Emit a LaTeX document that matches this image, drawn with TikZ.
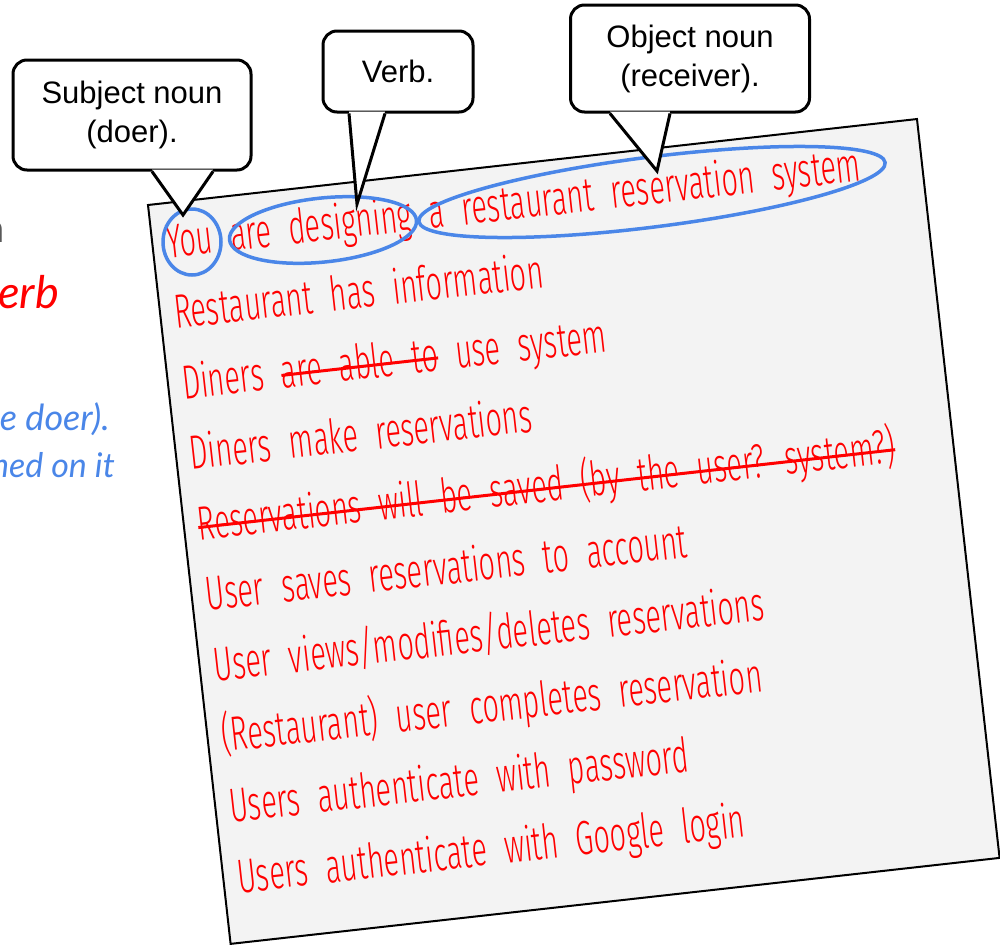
\documentclass[tikz,border=0pt]{standalone}
\usepackage{fontspec}
\usepackage{tikz}
\usetikzlibrary{shapes.geometric}

\setmainfont{Liberation Sans}
\newfontfamily\handfont[FakeStretch=0.6, WordSpace=2.2]{Fira Sans Light}
\newfontfamily\slidefont{Lato}
\definecolor{hiblue}{HTML}{4A86E8}
\definecolor{cardgray}{HTML}{F3F3F3}
\newsavebox\strikebox
\newcommand{\strikeword}[1]{\sbox\strikebox{#1}\rlap{\usebox\strikebox}\rule[0.45ex]{\wd\strikebox}{3pt}}

\tikzset{
  callout/.style={draw=black, line width=3pt, fill=white, rounded corners=14pt, align=center, inner sep=0pt, font=\fontsize{31}{39}\selectfont},
  hilite/.style={draw=hiblue, line width=3.5pt, ellipse, inner sep=0pt},
  handline/.style={text=red, anchor=base west, inner sep=0pt, font=\handfont\fontsize{48}{54}\selectfont, transform shape},
  tail/.style={line width=3pt, line join=miter},
  slidetext/.style={anchor=base east, inner sep=0pt, font=\slidefont\itshape\fontsize{36}{36}\selectfont},
}

\begin{document}
\begin{tikzpicture}[x=1pt, y=1pt]
\useasboundingbox (0,0) rectangle (1000,-946);

% pieces of the slide behind the card
\node[anchor=base east, inner sep=0pt, text=black!65, font=\slidefont\fontsize{40}{40}\selectfont] (slidea) at (5,-242) {n};
\node[slidetext, text=red, font=\slidefont\itshape\fontsize{45}{45}\selectfont] (slideb) at (59,-308) {erb};
\node[slidetext, text=hiblue] (slidec) at (110,-430) {e doer).};
\node[slidetext, text=hiblue, font=\slidefont\itshape\fontsize{34}{34}\selectfont] (slided) at (115,-477) {ned on it};

% the card
\begin{scope}[shift={(148,-205)}, rotate=6.38]
  \draw[fill=cardgray, line width=2pt] (0,0) rectangle (773.8,-743.5);
  \foreach \txt [count=\i from 0] in {You are designing a restaurant reservation system,
      Restaurant has information,
      Diners \strikeword{are able to} use system,
      Diners make reservations,
      \strikeword{Reservations will be saved (by the user? system?)},
      User saves reservations to account,
      User views/modifies/deletes reservations,
      (Restaurant) user completes reservation,
      Users authenticate with password,
      Users authenticate with Google login}
    \node[handline] (line\i) at (14,-55-71*\i) {\txt};
\end{scope}

% circled words
\node[hilite, minimum width=58pt, minimum height=66pt] (you) at (192,-242) {};
\node[hilite, minimum width=188pt, minimum height=64pt, rotate=6] (designing) at (323,-230) {};
\node[hilite, minimum width=470pt, minimum height=70pt, rotate=7.2] (system) at (652,-192) {};

% callouts
\node[callout, minimum width=238pt, minimum height=110pt] (subj) at (132,-115) {Subject noun\\(doer).};
\node[callout, minimum width=150pt, minimum height=81pt] (verb) at (398,-71.5) {Verb.};
\node[callout, minimum width=239pt, minimum height=107pt] (obj) at (690,-58.5) {Object noun\\(receiver).};

\coordinate (subjtip) at (183,-215);
\coordinate (verbtip) at (357,-204);
\coordinate (objtip) at (657,-171);

\fill[white] ([xshift=20pt,yshift=2pt]subj.south) -- (subjtip) -- ([xshift=81pt,yshift=2pt]subj.south) -- cycle;
\draw[tail] ([xshift=20pt]subj.south) -- (subjtip) -- ([xshift=81pt]subj.south);
\fill[white] ([xshift=-49pt,yshift=2pt]verb.south) -- (verbtip) -- ([xshift=-13pt,yshift=2pt]verb.south) -- cycle;
\draw[tail] ([xshift=-49pt]verb.south) -- (verbtip) -- ([xshift=-13pt]verb.south);
\fill[white] ([xshift=-80pt,yshift=2pt]obj.south) -- (objtip) -- ([xshift=-20pt,yshift=2pt]obj.south) -- cycle;
\draw[tail] ([xshift=-80pt]obj.south) -- (objtip) -- ([xshift=-20pt]obj.south);
\end{tikzpicture}
\end{document}
